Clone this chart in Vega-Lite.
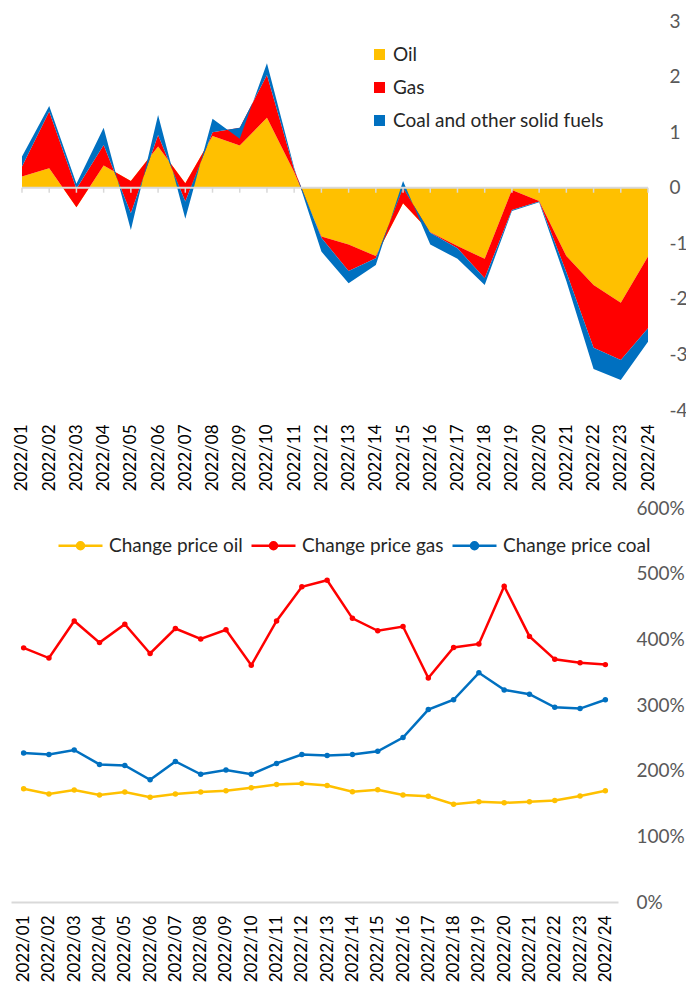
{
  "$schema": "https://vega.github.io/schema/vega-lite/v6.json",
  "padding": {"left": 11, "top": 12, "right": 0, "bottom": 0},
  "autosize": {"type": "pad"},
  "background": "white",
  "config": {
    "view": {"stroke": null},
    "font": "Lato",
    "axis": {"grid": false, "ticks": false, "domain": false, "title": null, "labelFont": "Lato"},
    "legend": {"labelFont": "Lato"}
  },
  "resolve": {"scale": {"color": "independent", "x": "independent", "y": "independent"}, "legend": {"color": "independent"}},
  "bounds": "flush",
  "spacing": 98,
  "datasets": {
    "contrib": [
      {"m": "2022/01", "fuel": "Oil", "v": 0.20}, {"m": "2022/01", "fuel": "Gas", "v": 0.18}, {"m": "2022/01", "fuel": "Coal and other solid fuels", "v": 0.18},
      {"m": "2022/02", "fuel": "Oil", "v": 0.35}, {"m": "2022/02", "fuel": "Gas", "v": 1.02}, {"m": "2022/02", "fuel": "Coal and other solid fuels", "v": 0.10},
      {"m": "2022/03", "fuel": "Oil", "v": -0.35}, {"m": "2022/03", "fuel": "Gas", "v": 0.33}, {"m": "2022/03", "fuel": "Coal and other solid fuels", "v": 0.09},
      {"m": "2022/04", "fuel": "Oil", "v": 0.40}, {"m": "2022/04", "fuel": "Gas", "v": 0.37}, {"m": "2022/04", "fuel": "Coal and other solid fuels", "v": 0.31},
      {"m": "2022/05", "fuel": "Oil", "v": 0.12}, {"m": "2022/05", "fuel": "Gas", "v": -0.58}, {"m": "2022/05", "fuel": "Coal and other solid fuels", "v": -0.30},
      {"m": "2022/06", "fuel": "Oil", "v": 0.74}, {"m": "2022/06", "fuel": "Gas", "v": 0.21}, {"m": "2022/06", "fuel": "Coal and other solid fuels", "v": 0.36},
      {"m": "2022/07", "fuel": "Oil", "v": 0.08}, {"m": "2022/07", "fuel": "Gas", "v": -0.33}, {"m": "2022/07", "fuel": "Coal and other solid fuels", "v": -0.31},
      {"m": "2022/08", "fuel": "Oil", "v": 0.93}, {"m": "2022/08", "fuel": "Gas", "v": 0.07}, {"m": "2022/08", "fuel": "Coal and other solid fuels", "v": 0.24},
      {"m": "2022/09", "fuel": "Oil", "v": 0.76}, {"m": "2022/09", "fuel": "Gas", "v": 0.32}, {"m": "2022/09", "fuel": "Coal and other solid fuels", "v": -0.20},
      {"m": "2022/10", "fuel": "Oil", "v": 1.26}, {"m": "2022/10", "fuel": "Gas", "v": 0.77}, {"m": "2022/10", "fuel": "Coal and other solid fuels", "v": 0.21},
      {"m": "2022/11", "fuel": "Oil", "v": 0.28}, {"m": "2022/11", "fuel": "Gas", "v": 0.05}, {"m": "2022/11", "fuel": "Coal and other solid fuels", "v": 0.03},
      {"m": "2022/12", "fuel": "Oil", "v": -0.88}, {"m": "2022/12", "fuel": "Gas", "v": -0.02}, {"m": "2022/12", "fuel": "Coal and other solid fuels", "v": -0.25},
      {"m": "2022/13", "fuel": "Oil", "v": -1.02}, {"m": "2022/13", "fuel": "Gas", "v": -0.48}, {"m": "2022/13", "fuel": "Coal and other solid fuels", "v": -0.22},
      {"m": "2022/14", "fuel": "Oil", "v": -1.23}, {"m": "2022/14", "fuel": "Gas", "v": -0.04}, {"m": "2022/14", "fuel": "Coal and other solid fuels", "v": -0.12},
      {"m": "2022/15", "fuel": "Oil", "v": -0.28}, {"m": "2022/15", "fuel": "Gas", "v": 0.28}, {"m": "2022/15", "fuel": "Coal and other solid fuels", "v": 0.12},
      {"m": "2022/16", "fuel": "Oil", "v": -0.80}, {"m": "2022/16", "fuel": "Gas", "v": -0.01}, {"m": "2022/16", "fuel": "Coal and other solid fuels", "v": -0.21},
      {"m": "2022/17", "fuel": "Oil", "v": -1.05}, {"m": "2022/17", "fuel": "Gas", "v": -0.04}, {"m": "2022/17", "fuel": "Coal and other solid fuels", "v": -0.19},
      {"m": "2022/18", "fuel": "Oil", "v": -1.28}, {"m": "2022/18", "fuel": "Gas", "v": -0.35}, {"m": "2022/18", "fuel": "Coal and other solid fuels", "v": -0.12},
      {"m": "2022/19", "fuel": "Oil", "v": -0.04}, {"m": "2022/19", "fuel": "Gas", "v": -0.36}, {"m": "2022/19", "fuel": "Coal and other solid fuels", "v": -0.02},
      {"m": "2022/20", "fuel": "Oil", "v": -0.24}, {"m": "2022/20", "fuel": "Gas", "v": -0.01}, {"m": "2022/20", "fuel": "Coal and other solid fuels", "v": -0.01},
      {"m": "2022/21", "fuel": "Oil", "v": -1.23}, {"m": "2022/21", "fuel": "Gas", "v": -0.29}, {"m": "2022/21", "fuel": "Coal and other solid fuels", "v": -0.16},
      {"m": "2022/22", "fuel": "Oil", "v": -1.75}, {"m": "2022/22", "fuel": "Gas", "v": -1.13}, {"m": "2022/22", "fuel": "Coal and other solid fuels", "v": -0.38},
      {"m": "2022/23", "fuel": "Oil", "v": -2.07}, {"m": "2022/23", "fuel": "Gas", "v": -1.03}, {"m": "2022/23", "fuel": "Coal and other solid fuels", "v": -0.36},
      {"m": "2022/24", "fuel": "Oil", "v": -1.24}, {"m": "2022/24", "fuel": "Gas", "v": -1.29}, {"m": "2022/24", "fuel": "Coal and other solid fuels", "v": -0.24}
    ],
    "price": [
      {"m": "2022/01", "s": "Change price oil", "v": 1.725}, {"m": "2022/01", "s": "Change price gas", "v": 3.87}, {"m": "2022/01", "s": "Change price coal", "v": 2.27},
      {"m": "2022/02", "s": "Change price oil", "v": 1.645}, {"m": "2022/02", "s": "Change price gas", "v": 3.715}, {"m": "2022/02", "s": "Change price coal", "v": 2.245},
      {"m": "2022/03", "s": "Change price oil", "v": 1.705}, {"m": "2022/03", "s": "Change price gas", "v": 4.28}, {"m": "2022/03", "s": "Change price coal", "v": 2.315},
      {"m": "2022/04", "s": "Change price oil", "v": 1.63}, {"m": "2022/04", "s": "Change price gas", "v": 3.95}, {"m": "2022/04", "s": "Change price coal", "v": 2.095},
      {"m": "2022/05", "s": "Change price oil", "v": 1.675}, {"m": "2022/05", "s": "Change price gas", "v": 4.23}, {"m": "2022/05", "s": "Change price coal", "v": 2.08},
      {"m": "2022/06", "s": "Change price oil", "v": 1.595}, {"m": "2022/06", "s": "Change price gas", "v": 3.785}, {"m": "2022/06", "s": "Change price coal", "v": 1.86},
      {"m": "2022/07", "s": "Change price oil", "v": 1.645}, {"m": "2022/07", "s": "Change price gas", "v": 4.165}, {"m": "2022/07", "s": "Change price coal", "v": 2.14},
      {"m": "2022/08", "s": "Change price oil", "v": 1.675}, {"m": "2022/08", "s": "Change price gas", "v": 4.005}, {"m": "2022/08", "s": "Change price coal", "v": 1.945},
      {"m": "2022/09", "s": "Change price oil", "v": 1.695}, {"m": "2022/09", "s": "Change price gas", "v": 4.145}, {"m": "2022/09", "s": "Change price coal", "v": 2.01},
      {"m": "2022/10", "s": "Change price oil", "v": 1.74}, {"m": "2022/10", "s": "Change price gas", "v": 3.605}, {"m": "2022/10", "s": "Change price coal", "v": 1.945},
      {"m": "2022/11", "s": "Change price oil", "v": 1.79}, {"m": "2022/11", "s": "Change price gas", "v": 4.28}, {"m": "2022/11", "s": "Change price coal", "v": 2.11},
      {"m": "2022/12", "s": "Change price oil", "v": 1.805}, {"m": "2022/12", "s": "Change price gas", "v": 4.80}, {"m": "2022/12", "s": "Change price coal", "v": 2.245},
      {"m": "2022/13", "s": "Change price oil", "v": 1.775}, {"m": "2022/13", "s": "Change price gas", "v": 4.90}, {"m": "2022/13", "s": "Change price coal", "v": 2.23},
      {"m": "2022/14", "s": "Change price oil", "v": 1.68}, {"m": "2022/14", "s": "Change price gas", "v": 4.32}, {"m": "2022/14", "s": "Change price coal", "v": 2.245},
      {"m": "2022/15", "s": "Change price oil", "v": 1.71}, {"m": "2022/15", "s": "Change price gas", "v": 4.13}, {"m": "2022/15", "s": "Change price coal", "v": 2.295},
      {"m": "2022/16", "s": "Change price oil", "v": 1.63}, {"m": "2022/16", "s": "Change price gas", "v": 4.195}, {"m": "2022/16", "s": "Change price coal", "v": 2.505},
      {"m": "2022/17", "s": "Change price oil", "v": 1.61}, {"m": "2022/17", "s": "Change price gas", "v": 3.41}, {"m": "2022/17", "s": "Change price coal", "v": 2.93},
      {"m": "2022/18", "s": "Change price oil", "v": 1.49}, {"m": "2022/18", "s": "Change price gas", "v": 3.875}, {"m": "2022/18", "s": "Change price coal", "v": 3.08},
      {"m": "2022/19", "s": "Change price oil", "v": 1.525}, {"m": "2022/19", "s": "Change price gas", "v": 3.93}, {"m": "2022/19", "s": "Change price coal", "v": 3.49},
      {"m": "2022/20", "s": "Change price oil", "v": 1.51}, {"m": "2022/20", "s": "Change price gas", "v": 4.81}, {"m": "2022/20", "s": "Change price coal", "v": 3.23},
      {"m": "2022/21", "s": "Change price oil", "v": 1.525}, {"m": "2022/21", "s": "Change price gas", "v": 4.045}, {"m": "2022/21", "s": "Change price coal", "v": 3.165},
      {"m": "2022/22", "s": "Change price oil", "v": 1.545}, {"m": "2022/22", "s": "Change price gas", "v": 3.695}, {"m": "2022/22", "s": "Change price coal", "v": 2.965},
      {"m": "2022/23", "s": "Change price oil", "v": 1.615}, {"m": "2022/23", "s": "Change price gas", "v": 3.645}, {"m": "2022/23", "s": "Change price coal", "v": 2.945},
      {"m": "2022/24", "s": "Change price oil", "v": 1.695}, {"m": "2022/24", "s": "Change price gas", "v": 3.615}, {"m": "2022/24", "s": "Change price coal", "v": 3.08}
    ]
  },
  "vconcat": [
    {
      "width": 648,
      "height": 389,
      "data": {"name": "contrib"},
      "transform": [
        {"calculate": "indexof(['Oil','Gas','Coal and other solid fuels'], datum.fuel)", "as": "ord"},
        {"window": [{"op": "sum", "field": "v", "as": "cum"}], "groupby": ["m"], "sort": [{"field": "ord"}], "frame": [null, 0]},
        {"calculate": "datum.cum - datum.v", "as": "base"}
      ],
      "encoding": {
        "x": {
          "field": "m", "type": "ordinal",
          "scale": {"type": "point", "padding": 0.404},
          "axis": {"labelAngle": -90, "labelPadding": 14, "labelFontSize": 17, "labelColor": "#000000", "labelOverlap": false}
        }
      },
      "layer": [
        {
          "transform": [{"filter": "datum.fuel === 'Oil'"}],
          "mark": {"type": "area", "interpolate": "linear"},
          "encoding": {
            "y": {
              "field": "cum", "type": "quantitative",
              "scale": {"domain": [-4, 3], "nice": false, "zero": false},
              "axis": {"orient": "right", "values": [-4, -3, -2, -1, 0, 1, 2, 3], "labelExpr": "'' + datum.value", "labelPadding": 10, "labelFontSize": 19, "labelColor": "#595959"}
            },
            "y2": {"field": "base"},
            "color": {
              "field": "fuel", "type": "nominal",
              "scale": {"domain": ["Oil", "Gas", "Coal and other solid fuels"], "range": ["#FFC000", "#FF0000", "#0070C0"]},
              "legend": {"orient": "none", "legendX": 359, "legendY": 24, "title": null, "symbolType": "square", "symbolSize": 121, "symbolStrokeWidth": 0, "labelFontSize": 19, "labelColor": "#262626", "labelLimit": 0, "rowPadding": 13, "labelOffset": 4, "padding": 0}
            }
          }
        },
        {
          "transform": [{"filter": "datum.fuel === 'Gas'"}],
          "mark": {"type": "area", "interpolate": "linear"},
          "encoding": {
            "y": {"field": "cum", "type": "quantitative"},
            "y2": {"field": "base"},
            "color": {"field": "fuel", "type": "nominal"}
          }
        },
        {
          "transform": [{"filter": "datum.fuel === 'Coal and other solid fuels'"}],
          "mark": {"type": "area", "interpolate": "linear"},
          "encoding": {
            "y": {"field": "cum", "type": "quantitative"},
            "y2": {"field": "base"},
            "color": {"field": "fuel", "type": "nominal"}
          }
        },
        {
          "transform": [{"filter": "datum.fuel === 'Oil' && datum.m === '2022/01'"}],
          "mark": {"type": "rule", "color": "#D9D9D9", "strokeWidth": 2},
          "encoding": {
            "x": {"datum": "2022/01", "type": "ordinal"},
            "x2": {"datum": "2022/24"},
            "y": {"datum": 0, "type": "quantitative"}
          }
        },
        {
          "transform": [{"filter": "datum.fuel === 'Oil'"}],
          "mark": {"type": "rule", "color": "#D9D9D9", "strokeWidth": 1.5},
          "encoding": {
            "y": {"datum": 0, "type": "quantitative"},
            "y2": {"datum": -0.09}
          }
        }
      ]
    },
    {
      "width": 607,
      "height": 394,
      "data": {"name": "price"},
      "mark": {"type": "line", "strokeWidth": 2.5, "point": {"filled": true, "size": 30}},
      "encoding": {
        "x": {
          "field": "m", "type": "ordinal",
          "scale": {"type": "point", "padding": 0.5},
          "axis": {"labelAngle": -90, "labelPadding": 13, "labelFontSize": 17, "labelColor": "#000000", "domain": true, "domainColor": "#D9D9D9", "domainWidth": 2, "labelOverlap": false}
        },
        "y": {
          "field": "v", "type": "quantitative",
          "scale": {"domain": [0, 6], "nice": false},
          "axis": {"orient": "right", "values": [0, 1, 2, 3, 4, 5, 6], "format": ".0%", "labelPadding": 18, "labelFontSize": 19, "labelColor": "#595959"}
        },
        "color": {
          "field": "s", "type": "nominal",
          "scale": {"domain": ["Change price oil", "Change price gas", "Change price coal"], "range": ["#FFC000", "#FF0000", "#0070C0"]},
          "legend": {"orient": "none", "direction": "horizontal", "legendX": 46, "legendY": 14, "title": null, "symbolType": "M-1,0L1,0M-0.16,0A0.16,0.16,0,1,0,0.16,0A0.16,0.16,0,1,0,-0.16,0", "symbolSize": 1936, "symbolStrokeWidth": 2.5, "labelFontSize": 19, "labelColor": "#262626", "labelLimit": 0, "columnPadding": 3, "labelOffset": 5, "padding": 0}
        }
      }
    }
  ]
}
